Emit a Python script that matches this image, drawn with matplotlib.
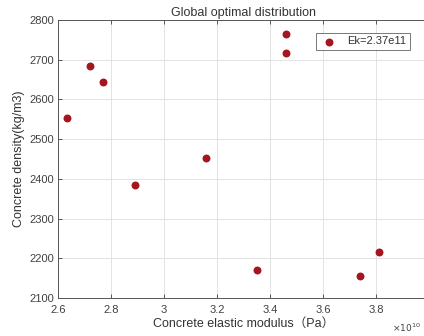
import matplotlib
matplotlib.use("Agg")
import matplotlib.pyplot as plt

plt.rcParams['font.family'] = ['Liberation Sans', 'Noto Sans CJK SC', 'DejaVu Sans']

# Data (elastic modulus in Pa, density in kg/m3)
modulus_pa = [2.635e10, 2.72e10, 2.77e10, 2.89e10, 3.16e10, 3.46e10, 3.46e10, 3.35e10, 3.74e10, 3.81e10]
density = [2553, 2685, 2643, 2385, 2452, 2765, 2717, 2170, 2155, 2217]
series_label = "Ek=2.37e11"
x_ticks = [2.6, 2.8, 3.0, 3.2, 3.4, 3.6, 3.8]
x_ticklabels = ["2.6", "2.8", "3", "3.2", "3.4", "3.6", "3.8"]
y_ticks = [2100, 2200, 2300, 2400, 2500, 2600, 2700, 2800]

scale = 1e10
xs = [m / scale for m in modulus_pa]

fig = plt.figure(figsize=(4.24, 3.36), dpi=100)
ax = fig.add_axes([58/424, 1 - 298/336, (429 - 58)/424, (298 - 20)/336])

ax.scatter(xs, density, s=22, color='#A3151F', label=series_label, zorder=3)

ax.set_xlim(2.6, 4.0)
ax.set_ylim(2100, 2800)
ax.set_xticks(x_ticks)
ax.set_xticklabels(x_ticklabels)
ax.set_yticks(y_ticks)
ax.grid(True, color='#E3E3E3', linewidth=0.7)
ax.set_axisbelow(True)
ax.tick_params(direction='in', top=True, right=True, labelsize=8, colors='#404040',
               length=3, width=0.6)
ax.tick_params(axis='x', pad=5)
ax.tick_params(axis='y', pad=3)
for s in ax.spines.values():
    s.set_color('#555555')
    s.set_linewidth(0.7)

ax.set_title("Global optimal distribution", fontsize=9, color='#333333', pad=3)
ax.set_xlabel("Concrete elastic modulus（Pa）", fontsize=9, color='#333333', labelpad=2)
ax.set_ylabel("Concrete density(kg/m3)", fontsize=9, color='#333333', labelpad=3)

fig.text(392/424, 1 - 328/336, r"$\times10^{10}$", fontsize=6.5, color='#404040', va='center')

leg = ax.legend(loc='upper right', bbox_to_anchor=(416/424, 1 - 27/336),
                bbox_transform=fig.transFigure, fontsize=8, frameon=True,
                fancybox=False, edgecolor='#555555', handletextpad=0.9,
                handlelength=1.6, borderpad=0.35, markerscale=1.0)
leg.get_frame().set_linewidth(0.7)
for t in leg.get_texts():
    t.set_color('#333333')

fig.savefig("out.png", dpi=100)
